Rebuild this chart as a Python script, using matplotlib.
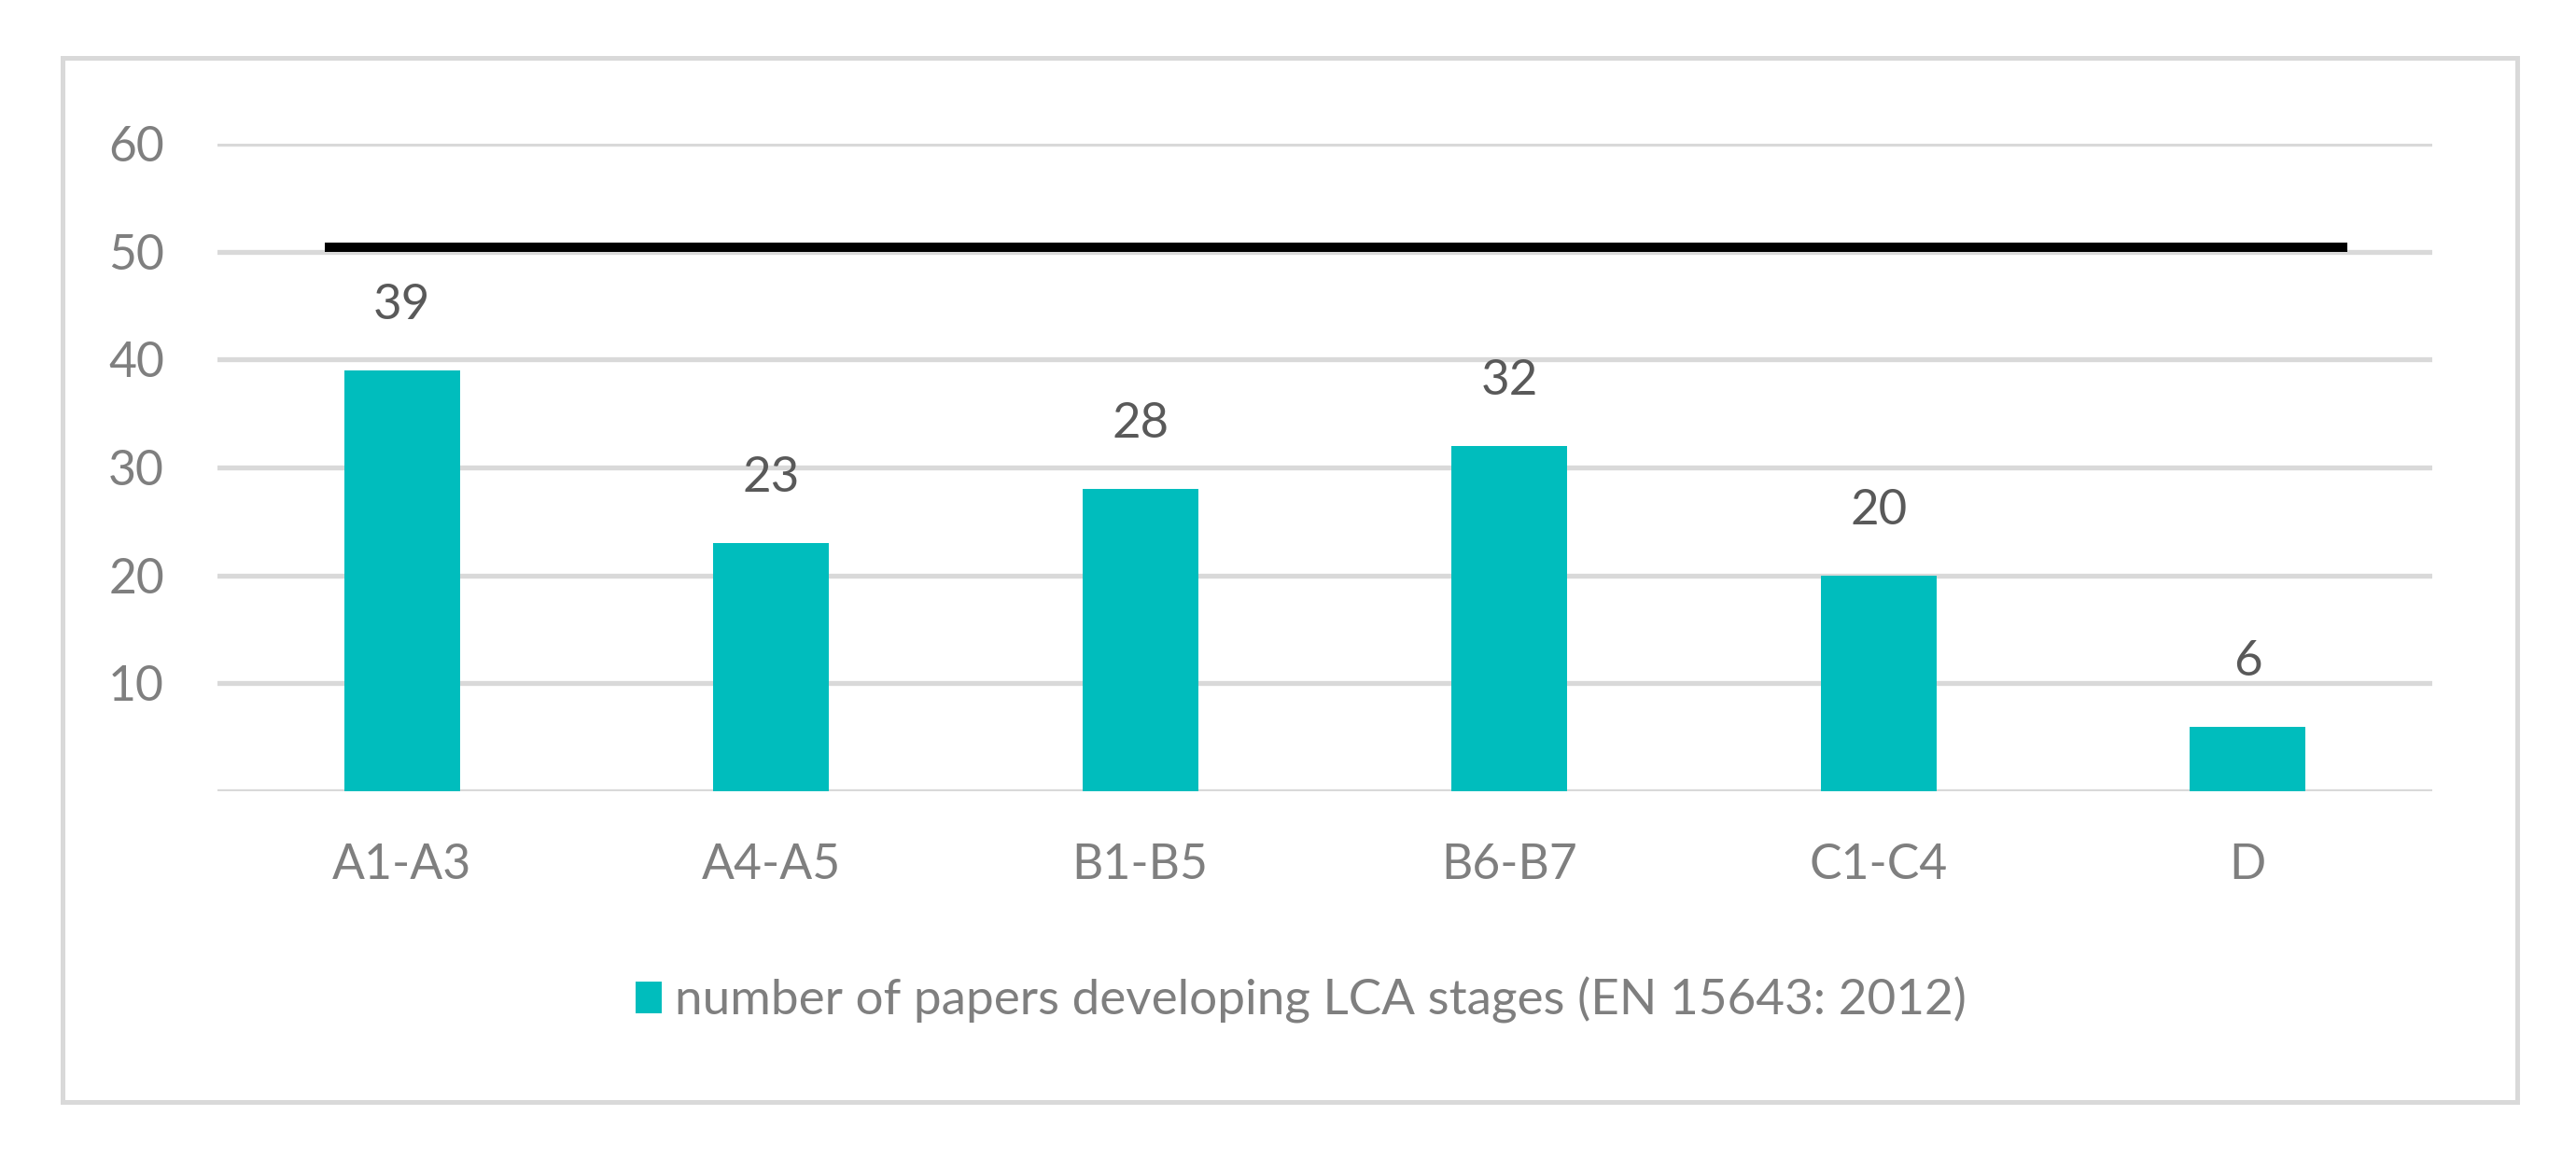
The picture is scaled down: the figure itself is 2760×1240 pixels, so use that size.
import matplotlib
matplotlib.use("Agg")
import matplotlib.pyplot as plt
from matplotlib.patches import Rectangle

# data
stages = ["A1-A3", "A4-A5", "B1-B5", "B6-B7", "C1-C4", "D"]
papers = [39, 23, 28, 32, 20, 6]
yticks = [10, 20, 30, 40, 50, 60]
ref_level = 50.4          # thick black reference line
ref_span = [-0.21, 5.27]  # start / end in category units
legend_label = "number of papers developing LCA stages (EN 15643: 2012)"

bar_color = "#00BDBD"
grid_color = "#D9D9D9"
text_gray = "#7F7F7F"
label_gray = "#595959"

plt.rcParams["font.family"] = ["Lato", "DejaVu Sans"]
fs = 18.6

fig = plt.figure(figsize=(13.8, 6.2), dpi=200)
ax = fig.add_axes([0.0844, 0.3161, 0.8598, 0.5597])

x = list(range(len(stages)))
ax.bar(x, papers, width=0.314, color=bar_color, zorder=3, label=legend_label)
ax.plot(ref_span, [ref_level, ref_level], color="black", lw=3.6,
        solid_capstyle="butt", zorder=4)

for xi, v in zip(x, papers):
    ax.annotate(str(v), (xi, v), xytext=(0, 25.0), textcoords="offset points",
                ha="center", va="center", fontsize=19, color=label_gray)

ax.set_xlim(-0.5, len(stages) - 0.5)
ax.set_ylim(0, 60)
ax.set_yticks(yticks)
ax.set_xticks(x)
ax.set_xticklabels(stages)
ax.tick_params(axis="y", length=0, pad=20.5, labelsize=fs, labelcolor=text_gray)
ax.tick_params(axis="x", length=0, pad=20, labelsize=fs, labelcolor=text_gray)
ax.grid(axis="y", color=grid_color, lw=1.9, zorder=0)
ax.axhline(0, color=grid_color, lw=1.9, zorder=2)
for s in ax.spines.values():
    s.set_visible(False)

fig.legend(loc="center", bbox_to_anchor=(0.505, 1 - 1072 / 1240), frameon=False,
           fontsize=19.1, labelcolor=text_gray, handlelength=0.53,
           handleheight=0.63, handletextpad=0.27)

# outer chart border
fig.patches.append(Rectangle((67 / 2760, 1 - 1181 / 1240), (2697 - 67) / 2760,
                             (1181 - 62) / 1240, transform=fig.transFigure,
                             fill=False, edgecolor=grid_color, lw=1.8))

fig.savefig("out.png", dpi=200)
